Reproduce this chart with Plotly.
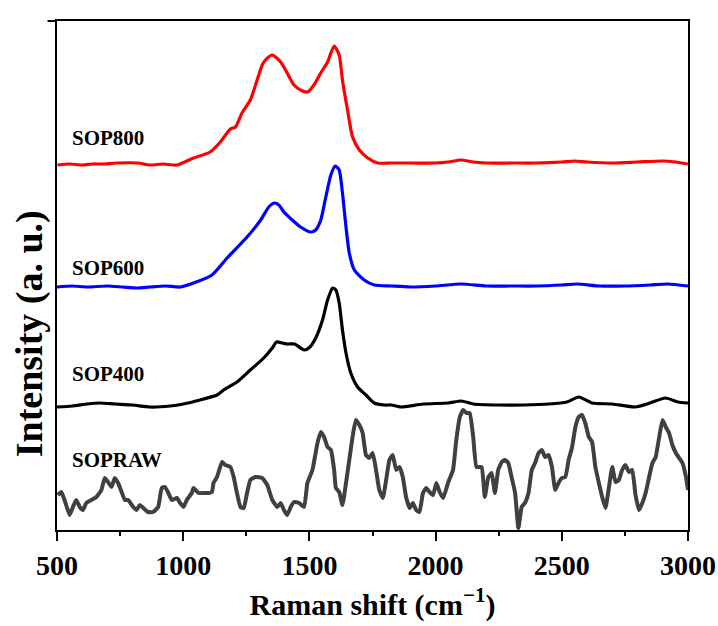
import plotly.graph_objects as go

# ---- data (Raman shift in cm^-1, intensity in arbitrary units, offset stacked) ----
raw_x = [503, 517, 530, 550, 563, 576, 590, 603, 616, 636, 656, 676, 689, 702, 716, 729, 742, 756, 769, 782,
         802, 815, 828, 842, 861, 881, 901, 915, 928, 941, 955, 975, 988, 1001, 1014, 1034, 1041, 1061, 1080, 1100,
         1114, 1120, 1134, 1154, 1167, 1187, 1200, 1213, 1227, 1240, 1253, 1266, 1286, 1313, 1333, 1353, 1373, 1386,
         1399, 1412, 1426, 1439, 1459, 1479, 1492, 1512, 1532, 1545, 1558, 1572, 1585, 1598, 1605, 1618, 1631, 1645,
         1658, 1671, 1684, 1698, 1711, 1724, 1737, 1751, 1764, 1777, 1791, 1804, 1817, 1830, 1844, 1857, 1870, 1883,
         1897, 1910, 1923, 1936, 1950, 1963, 1976, 1990, 2003, 2016, 2030, 2049, 2069, 2082, 2096, 2109, 2122, 2135,
         2149, 2162, 2182, 2195, 2209, 2222, 2235, 2248, 2262, 2275, 2288, 2301, 2315, 2328, 2341, 2354, 2368, 2381,
         2394, 2408, 2421, 2434, 2448, 2461, 2474, 2487, 2500, 2514, 2527, 2540, 2554, 2567, 2580, 2593, 2607, 2620,
         2633, 2647, 2660, 2673, 2687, 2700, 2713, 2726, 2739, 2752, 2766, 2779, 2792, 2806, 2819, 2832, 2846, 2859,
         2872, 2886, 2899, 2912, 2925, 2938, 2952, 2965, 2978, 2992, 3000]
raw_y = [35, 38, 30, 15, 23, 30, 23, 20, 27, 30, 33, 40, 52, 48, 43, 52, 47, 38, 30, 30,
         23, 20, 25, 22, 18, 18, 23, 42, 43, 37, 30, 32, 27, 23, 30, 37, 42, 37, 37, 37,
         38, 47, 53, 68, 65, 63, 53, 37, 23, 22, 37, 50, 53, 52, 45, 30, 23, 27,
         20, 15, 23, 28, 27, 23, 47, 60, 87, 98, 93, 83, 80, 60, 42, 38, 25, 47,
         70, 93, 110, 105, 97, 75, 72, 77, 60, 40, 32, 50, 70, 75, 60, 63, 53, 33,
         22, 27, 20, 18, 37, 42, 38, 35, 47, 38, 32, 47, 60, 90, 113, 120, 117, 117,
         93, 63, 63, 33, 53, 57, 37, 60, 68, 70, 67, 53, 37, 2, 23, 27, 37, 60,
         67, 77, 80, 73, 75, 63, 40, 47, 52, 53, 70, 82, 103, 113, 115, 107, 93, 88,
         63, 47, 33, 22, 43, 63, 48, 50, 60, 65, 58, 60, 35, 20, 27, 37, 53, 67,
         73, 93, 110, 103, 97, 85, 77, 72, 67, 53, 40]

s400_x = [500, 560, 620, 669, 730, 800, 868, 948, 1001, 1067, 1134, 1160, 1213, 1266, 1319, 1353, 1370, 1393,
          1412, 1442, 1465, 1481, 1502, 1525, 1552, 1572, 1592, 1605, 1618, 1631, 1645, 1664, 1691, 1724, 1757,
          1797, 1824, 1863, 1950, 2050, 2102, 2150, 2250, 2350, 2450, 2520, 2567, 2620, 2700, 2791, 2850, 2911,
          2960, 3000]
s400_y = [123, 124, 126, 127, 126, 125, 123, 124, 126, 130, 135, 140, 148, 160, 172, 182, 188, 187,
          186, 186, 182, 180, 183, 192, 210, 230, 242, 240, 227, 200, 177, 157, 143, 135, 127,
          125, 125, 123, 126, 127, 129, 126, 125, 125, 126, 128, 133, 127, 126, 123, 127, 132,
          128, 127]

s600_x = [500, 560, 620, 700, 760, 820, 868, 930, 988, 1041, 1114, 1174, 1253, 1307, 1339, 1362, 1379, 1399,
          1432, 1465, 1505, 1525, 1545, 1565, 1585, 1602, 1618, 1631, 1645, 1658, 1678, 1717, 1757, 1824, 1900,
          2000, 2100, 2200, 2300, 2400, 2500, 2560, 2650, 2750, 2850, 2920, 3000]
s600_y = [243, 244, 243, 244, 243, 242, 243, 244, 243, 247, 255, 272, 293, 310, 323, 327, 325, 318,
          310, 303, 298, 300, 310, 333, 355, 364, 360, 337, 303, 277, 260, 250, 245, 244, 243,
          244, 246, 244, 244, 244, 245, 246, 244, 244, 245, 246, 244]

s800_x = [502, 550, 601, 641, 681, 737, 820, 868, 920, 975, 1041, 1107, 1147, 1187, 1207, 1233, 1266, 1293,
          1313, 1326, 1353, 1386, 1412, 1439, 1465, 1492, 1518, 1545, 1572, 1598, 1618, 1631, 1651, 1671, 1698,
          1731, 1771, 1824, 1900, 2000, 2050, 2100, 2150, 2200, 2300, 2400, 2500, 2550, 2600, 2700, 2800, 2900,
          2950, 3000]
s800_y = [365, 366, 365, 366, 366, 367, 367, 365, 366, 365, 372, 378, 388, 401, 403, 417, 430, 450,
          465, 470, 475, 468, 457, 445, 440, 438, 445, 457, 468, 484, 475, 450, 420, 393, 380,
          372, 367, 367, 367, 367, 368, 370, 368, 367, 367, 367, 368, 369, 368, 367, 368, 369,
          368, 366]

series_names = ["SOPRAW", "SOP400", "SOP600", "SOP800"]
label_y = [70, 156, 262, 392]
x_ticks = [500, 1000, 1500, 2000, 2500, 3000]

FONT = "Liberation Serif"

fig = go.Figure()
fig.add_trace(go.Scatter(x=raw_x, y=raw_y, mode="lines",
                         line=dict(color="#404040", width=4, shape="spline", smoothing=0.4),
                         name=series_names[0]))
fig.add_trace(go.Scatter(x=s400_x, y=s400_y, mode="lines",
                         line=dict(color="#000000", width=3.2, shape="spline", smoothing=0.6),
                         name=series_names[1]))
fig.add_trace(go.Scatter(x=s600_x, y=s600_y, mode="lines",
                         line=dict(color="#0000ff", width=3.2, shape="spline", smoothing=0.6),
                         name=series_names[2]))
fig.add_trace(go.Scatter(x=s800_x, y=s800_y, mode="lines",
                         line=dict(color="#ff0000", width=3.2, shape="spline", smoothing=0.6),
                         name=series_names[3]))

for name, ly in zip(series_names, label_y):
    fig.add_annotation(x=550, y=ly, text=name, showarrow=False, xanchor="left", yanchor="middle",
                       font=dict(family=FONT, size=21, color="black", weight="bold"))

# y-axis title
fig.add_annotation(xref="paper", yref="paper", x=-0.044, y=0.385, text="Intensity (a. u.)",
                   textangle=-90, showarrow=False, xanchor="center", yanchor="middle",
                   font=dict(family=FONT, size=38, color="black", weight="bold"))

fig.add_shape(type="line", xref="paper", yref="paper", x0=-0.015, x1=0, y0=1, y1=1,
              line=dict(color="black", width=2))

fig.update_layout(
    width=718, height=626,
    margin=dict(l=57, r=30, t=21, b=96),
    paper_bgcolor="white", plot_bgcolor="white",
    showlegend=False,
    font=dict(family=FONT, color="black"),
    xaxis=dict(
        range=[500, 3000], tickvals=x_ticks, ticks="outside", ticklen=9, tickwidth=2, tickcolor="black",
        showline=True, linewidth=2, linecolor="black", mirror=True, showgrid=False, zeroline=False,
        automargin=False,
        tickfont=dict(family=FONT, size=28, color="black", weight="bold"),
        minor=dict(dtick=250, tick0=500, ticks="outside", ticklen=4, tickwidth=2, tickcolor="black", showgrid=False),
        title=dict(text="Raman shift (cm<sup>\u22121</sup>)", standoff=14,
                   font=dict(family=FONT, size=30, color="black", weight="bold")),
    ),
    yaxis=dict(
        range=[0, 509], showticklabels=False, ticks="", showline=True, linewidth=2, linecolor="black",
        mirror=True, showgrid=False, zeroline=False, automargin=False,
    ),
)

fig.write_html("out.html")
